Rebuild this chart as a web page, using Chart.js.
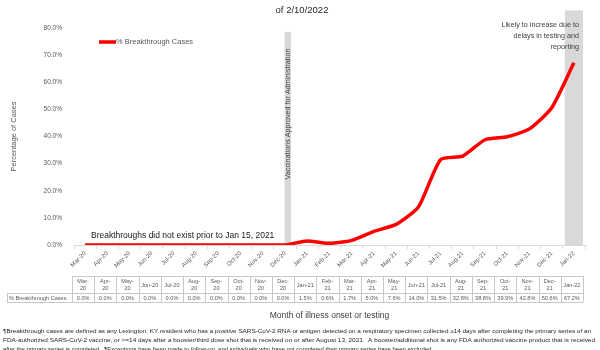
<!DOCTYPE html>
<html>
<head>
<meta charset="utf-8">
<script src="https://cdn.jsdelivr.net/npm/chart.js@4"></script>
<style>
  body { margin: 0; background: #fff; }
  #wrap { width: 600px; height: 350px; position: relative; }
</style>
</head>
<body>
<div id="wrap"><canvas id="lineChart"></canvas></div>
<script>
const months = ['Mar-20','Apr-20','May-20','Jun-20','Jul-20','Aug-20','Sep-20','Oct-20','Nov-20','Dec-20',
                'Jan-21','Feb-21','Mar-21','Apr-21','May-21','Jun-21','Jul-21','Aug-21','Sep-21','Oct-21','Nov-21','Dec-21','Jan-22'];
const breakthroughPct = [0,0,0,0,0,0,0,0,0,0,1.5,0.6,1.7,5.0,7.6,14.0,31.5,32.8,38.8,39.9,42.8,50.6,67.2];
// table headers that fit on one line; the rest wrap after the dash
const oneLineHeaders = ['Jun-20','Jul-20','Jan-21','Jun-21','Jul-21','Jan-22'];
const yMax = 80;
const yStep = 10;
const seriesName = '% Breakthrough Cases';
const vaccineMonth = 'Dec-20';
const lagMonth = 'Jan-22';
const footnote = [
  '\u00b6Breakthrough cases are defined as any Lexington, KY resident who has a positive SARS-CoV-2 RNA or antigen detected on a respiratory specimen collected \u226514 days after completing the primary series of an',
  'FDA-authorized SARS-CoV-2 vaccine, or >=14 days after a booster/third dose shot that is received on or after August 13, 2021.  A booster/additional shot is any FDA authorized vaccine product that is received',
  'after the primary series is completed.  \u00b6Exceptions have been made to follow-up, and individuals who have not completed their primary series have been excluded.'
];

const FONT = "'Liberation Sans', Arial, sans-serif";
const GREY = '#595959';

document.addEventListener('DOMContentLoaded', function () {

    /* GREY BANDS behind the line */
    const bands = {
        id: 'bands',
        beforeDatasetsDraw(chart) {
            const { ctx, scales: { x, y } } = chart;
            const cell = x.width / months.length;
            ctx.save();
            ctx.fillStyle = '#d9d9d9';
            const vx = x.getPixelForValue(months.indexOf(vaccineMonth));
            const vTop = y.getPixelForValue(78.6);
            ctx.fillRect(vx - 0.5, vTop, 6.5, y.bottom - vTop);
            const lx = x.getPixelForValue(months.indexOf(lagMonth));
            const lTop = y.getPixelForValue(86.5);
            ctx.fillRect(lx - cell / 2 + 2, lTop, cell - 4, y.bottom - lTop);
            ctx.restore();
        }
    };

    /* TITLE, LEGEND, NOTES, DATA TABLE, FOOTNOTE */
    const extras = {
        id: 'extras',
        afterDraw(chart) {
            const { ctx, scales: { x, y } } = chart;
            ctx.save();
            ctx.textBaseline = 'middle';

            // title (second line)
            ctx.fillStyle = '#262626';
            ctx.font = '9.5px ' + FONT;
            ctx.textAlign = 'center';
            ctx.fillText('of 2/10/2022', 302, 10);

            // legend
            ctx.strokeStyle = '#ff0000';
            ctx.lineWidth = 3.5;
            ctx.beginPath();
            ctx.moveTo(99, 42);
            ctx.lineTo(116, 42);
            ctx.stroke();
            ctx.fillStyle = GREY;
            ctx.font = '7.5px ' + FONT;
            ctx.textAlign = 'left';
            ctx.fillText(seriesName, 116, 42);

            // notes
            ctx.fillStyle = '#1a1a1a';
            ctx.font = '8.5px ' + FONT;
            ctx.fillText('Breakthroughs did not exist prior to Jan 15, 2021', 91, 236);

            ctx.fillStyle = '#404040';
            ctx.font = '7.2px ' + FONT;
            ctx.textAlign = 'right';
            ['Likely to increase due to', 'delays in testing and', 'reporting'].forEach((t, i) => {
                ctx.fillText(t, 579, 25 + i * 11);
            });

            ctx.save();
            ctx.translate(x.getPixelForValue(months.indexOf(vaccineMonth)) + 3, 114);
            ctx.rotate(-Math.PI / 2);
            ctx.textAlign = 'center';
            ctx.font = '7.2px ' + FONT;
            ctx.fillText('Vaccinations Approved for Administration', 0, 0);
            ctx.restore();

            // data table
            const cell = x.width / months.length;
            const left0 = x.left - 2;
            const right0 = left0 + cell * months.length;
            const top = 276, mid = 293, bot = 302, labLeft = 7;
            ctx.strokeStyle = '#c8c8c8';
            ctx.lineWidth = 1;
            ctx.beginPath();
            ctx.moveTo(left0, top + 0.5); ctx.lineTo(right0, top + 0.5);
            ctx.moveTo(labLeft, mid + 0.5); ctx.lineTo(right0, mid + 0.5);
            ctx.moveTo(labLeft, bot + 0.5); ctx.lineTo(right0, bot + 0.5);
            ctx.moveTo(labLeft + 0.5, mid); ctx.lineTo(labLeft + 0.5, bot);
            for (let i = 0; i <= months.length; i++) {
                const cx = Math.round(left0 + i * cell) + 0.5;
                ctx.moveTo(cx, top); ctx.lineTo(cx, bot);
            }
            ctx.stroke();

            ctx.fillStyle = GREY;
            ctx.font = '5.6px ' + FONT;
            ctx.textAlign = 'center';
            months.forEach((m, i) => {
                const cx = left0 + (i + 0.5) * cell;
                if (!oneLineHeaders.includes(m)) {
                    const p = m.split('-');
                    ctx.fillText(p[0] + '-', cx, 281);
                    ctx.fillText(p[1], cx, 288.5);
                } else {
                    ctx.fillText(m, cx, 285);
                }
                ctx.fillText(breakthroughPct[i].toFixed(1) + '%', cx, 298);
            });
            ctx.textAlign = 'left';
            ctx.fillText(seriesName, labLeft + 2, 298);

            // footnote, stretched to the page width
            ctx.fillStyle = '#262626';
            ctx.font = '5.6px ' + FONT;
            footnote.forEach((t, i) => {
                const w = ctx.measureText(t).width;
                const target = i === 2 ? 430 : (i === 0 ? 588 : 592);
                ctx.save();
                ctx.translate(3, 331 + i * 9.3);
                ctx.scale(Math.min(target / w, 1.4), 1);
                ctx.fillText(t, 0, 0);
                ctx.restore();
            });

            ctx.restore();
        }
    };

    const ctxLine = document.getElementById('lineChart').getContext('2d');
    new Chart(ctxLine, {
        type: 'line',
        data: {
            labels: months,
            datasets: [{
                label: seriesName,
                data: breakthroughPct,
                borderColor: '#ff0000',
                borderWidth: 3.5,
                pointRadius: 0,
                tension: 0.2,
                fill: false
            }]
        },
        options: {
            responsive: true,
            maintainAspectRatio: false,
            animation: false,
            layout: { padding: { top: 28, right: 15, left: 0, bottom: 0 } },
            plugins: { legend: { display: false }, tooltip: { enabled: false } },
            scales: {
                x: {
                    offset: true,
                    afterFit: s => { s.height = 105; },
                    grid: { display: true, drawOnChartArea: false, offset: true, tickLength: 4, color: '#d9d9d9' },
                    border: { color: '#d9d9d9' },
                    ticks: {
                        minRotation: 45, maxRotation: 45, autoSkip: false, padding: 1,
                        color: GREY, font: { family: FONT, size: 6 }
                    },
                    title: {
                        display: true, text: 'Month of illness onset or testing',
                        color: '#404040', font: { family: FONT, size: 8.5 },
                        padding: { top: 0, bottom: 29 }
                    }
                },
                y: {
                    min: 0, max: yMax,
                    afterFit: s => { s.width = 74; },
                    grid: { display: false },
                    border: { display: false },
                    ticks: {
                        stepSize: yStep, padding: 4,
                        color: GREY, font: { family: FONT, size: 6.5 },
                        callback: v => v.toFixed(1) + '%'
                    },
                    title: {
                        display: true, text: 'Percentage of Cases',
                        color: GREY, font: { family: FONT, size: 7.5 },
                        padding: { top: 9, bottom: 0 }
                    }
                }
            }
        },
        plugins: [bands, extras]
    });

});
</script>
</body>
</html>
